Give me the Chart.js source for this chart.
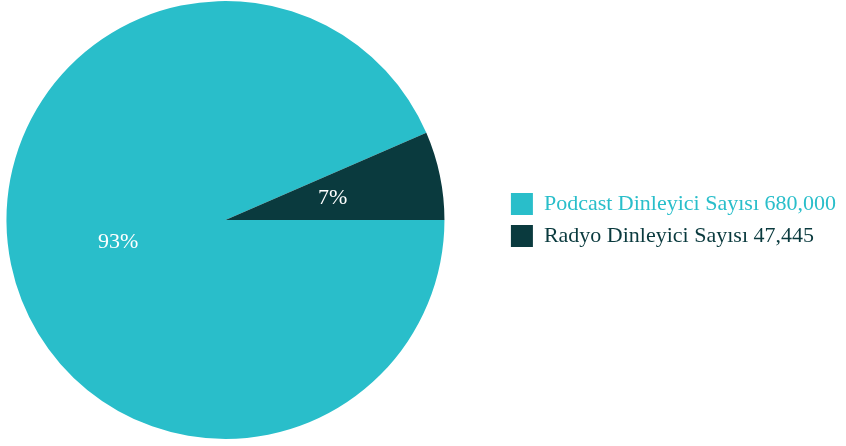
<!DOCTYPE html>
<html>
<head>
<meta charset="utf-8">
<script src="https://cdn.jsdelivr.net/npm/chart.js@4/dist/chart.umd.min.js"></script>
<style>
  html, body { margin: 0; padding: 0; background: #fff; }
  #wrap { width: 846px; height: 446px; }
</style>
</head>
<body>
<div id="wrap"><canvas id="myChart"></canvas></div>
<script>
const labels = ["Podcast Dinleyici Sayısı", "Radyo Dinleyici Sayısı"];
const values = [680000, 47445];
const colors = ["#29BECA", "#0A3A3E"];

const serif = "'Liberation Serif', 'Times New Roman', serif";

// percent labels in the middle of each slice
const sliceLabels = {
  id: "sliceLabels",
  afterDatasetsDraw(chart) {
    const ctx = chart.ctx;
    const meta = chart.getDatasetMeta(0);
    const total = values.reduce((a, b) => a + b, 0);
    ctx.save();
    ctx.fillStyle = "#ffffff";
    ctx.font = "22px " + serif;
    ctx.textAlign = "center";
    ctx.textBaseline = "middle";
    meta.data.forEach((arc, i) => {
      const pos = arc.getCenterPoint();
      const pct = Math.round(values[i] / total * 100) + "%";
      ctx.fillText(pct, pos.x, pos.y);
    });
    ctx.restore();
  }
};

// push the legend a bit to the right, away from the pie
const legendShift = {
  id: "legendShift",
  afterLayout(chart) {
    const lg = chart.legend;
    if (!lg) return;
    const dx = 846 - lg.right;
    lg.left += dx;
    lg.right += dx;
  }
};

const data = {
  labels: labels,
  datasets: [{
    data: values,
    backgroundColor: colors,
    borderWidth: 0
  }]
};

const options = {
  responsive: true,
  maintainAspectRatio: false,
  animation: false,
  rotation: 90,
  layout: {
    padding: { right: 50, top: 1, bottom: 7 }
  },
  plugins: {
    tooltip: { enabled: false },
    legend: {
      position: "right",
      labels: {
        boxWidth: 22,
        boxHeight: 22,
        padding: 10,
        font: { family: serif, size: 22 },
        generateLabels(chart) {
          const items = Chart.overrides.pie.plugins.legend.labels.generateLabels(chart);
          items.forEach((item, i) => {
            item.text = labels[i] + " " + values[i].toLocaleString("en-US");
            item.fontColor = colors[i];
            item.lineWidth = 0;
          });
          return items;
        }
      }
    }
  }
};

const ctx = document.querySelector("#myChart").getContext("2d");
new Chart(ctx, {
  type: "pie",
  data: data,
  options: options,
  plugins: [sliceLabels, legendShift]
});
</script>
</body>
</html>
